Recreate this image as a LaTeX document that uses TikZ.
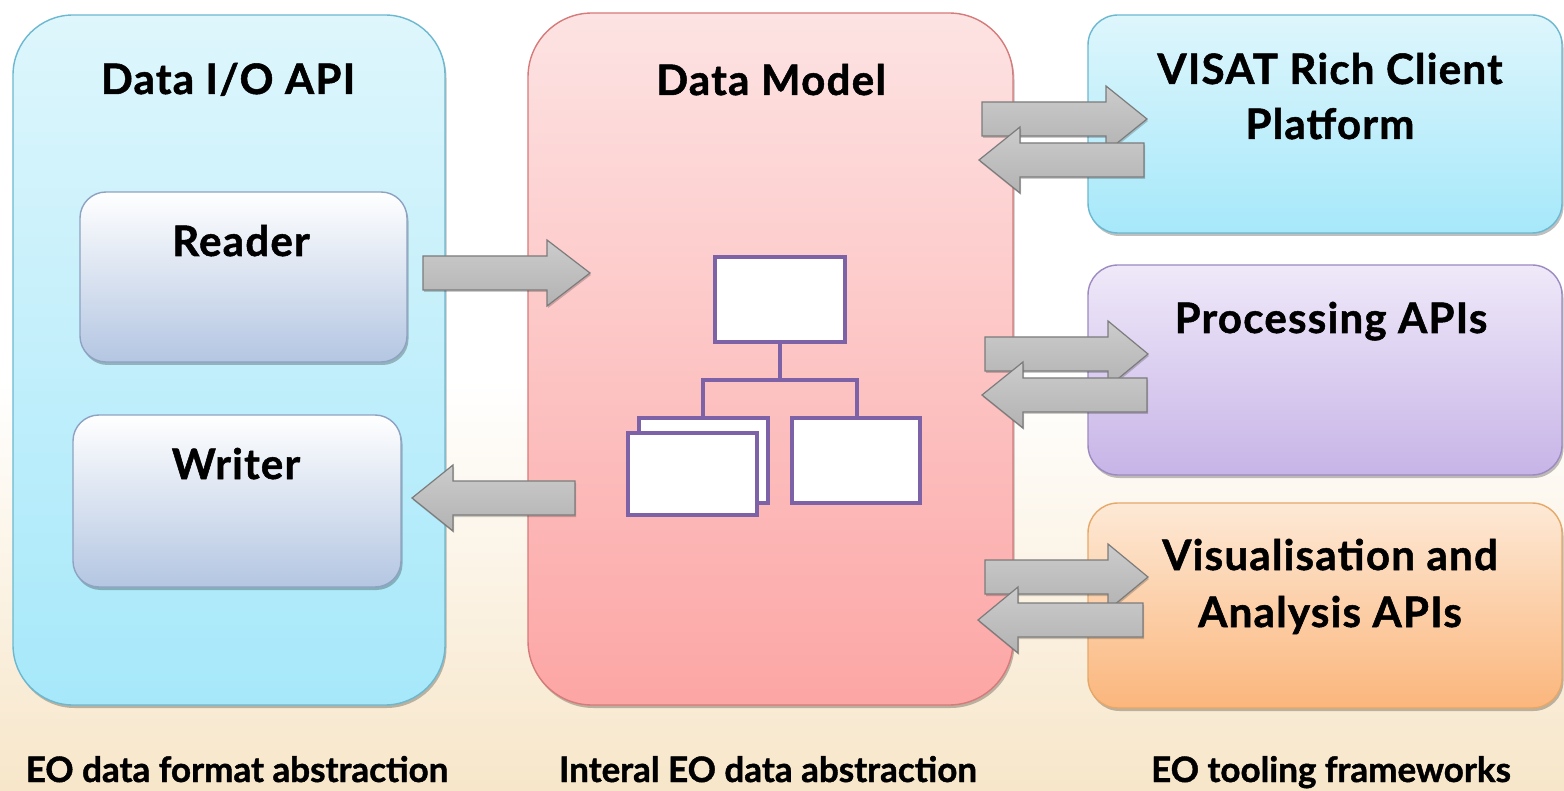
\documentclass[tikz,border=0pt]{standalone}
\usepackage{fontspec}
\setmainfont{Lato}
\newfontfamily\headfont{Lato}[BoldFeatures={FakeBold=1.2,LetterSpace=3}]
\newfontfamily\capfont{Lato}[BoldFeatures={FakeBold=1.2}]
\usetikzlibrary{shadows}
\definecolor{bgbeige}{HTML}{F7E6C9}
\definecolor{cyantop}{HTML}{DEF6FC}
\definecolor{cyanbot}{HTML}{A6E8FA}
\definecolor{cyanline}{HTML}{6CB8D0}
\definecolor{rwtop}{HTML}{FFFFFF}
\definecolor{rwbot}{HTML}{B4C6E2}
\definecolor{rwline}{HTML}{8EA2C2}
\definecolor{redtop}{HTML}{FDE3E3}
\definecolor{redbot}{HTML}{FCA6A5}
\definecolor{redline}{HTML}{D77A7A}
\definecolor{purtop}{HTML}{EFE9F9}
\definecolor{purbot}{HTML}{C7B4E7}
\definecolor{purline}{HTML}{9C8AC0}
\definecolor{ortop}{HTML}{FDE9D6}
\definecolor{orbot}{HTML}{FBB67C}
\definecolor{orline}{HTML}{E6A868}
\definecolor{treeline}{HTML}{7E62A8}
\definecolor{arrline}{HTML}{7C7C7C}
\begin{document}
\begin{tikzpicture}[x=1pt,y=-1pt,
  box/.style={draw, line width=1.4pt, inner sep=0pt, outer sep=0pt,
    drop shadow={shadow xshift=1.5pt, shadow yshift=-3pt, opacity=0.25, fill=black}},
  bigbox/.style={box, rounded corners=60pt},
  subbox/.style={box, rounded corners=26pt, draw=rwline, top color=rwtop, bottom color=rwbot},
  sidebox/.style={box, rounded corners=30pt},
  title/.style={anchor=base, font=\headfont\bfseries\fontsize{42}{50}\selectfont, align=center, inner sep=0pt},
  caption/.style={anchor=base, font=\capfont\bfseries\fontsize{35}{42}\selectfont, inner sep=0pt},
  treebox/.style={draw=treeline, line width=3.8pt, fill=white, inner sep=0pt},
  treeedge/.style={draw=treeline, line width=3.8pt},
  barrowstyle/.style={draw=arrline, line width=1.2pt, top color=black!20, middle color=black!6, bottom color=black!30,
    drop shadow={shadow xshift=1pt, shadow yshift=-2pt, opacity=0.2, fill=black}}
]
% background
\useasboundingbox (0,0) rectangle (1564,791);
\fill[white] (0,0) rectangle (1564,791);
\shade[top color=white, bottom color=bgbeige] (0,380) rectangle (1564,791);

% main boxes
\node[bigbox, draw=cyanline, top color=cyantop, bottom color=cyanbot,
  minimum width=432pt, minimum height=690pt] (io) at (229,360) {};
\node[subbox, minimum width=327pt, minimum height=170pt] (reader) at (243.5,277) {};
\node[subbox, minimum width=328pt, minimum height=172pt] (writer) at (237,501) {};
\node[bigbox, rounded corners=64pt, draw=redline, top color=redtop, bottom color=redbot,
  minimum width=485pt, minimum height=692pt] (model) at (770.5,359) {};
\node[sidebox, draw=cyanline, top color=cyantop, bottom color=cyanbot,
  minimum width=474pt, minimum height=218pt] (visat) at (1325,124) {};
\node[sidebox, draw=purline, top color=purtop, bottom color=purbot,
  minimum width=474pt, minimum height=210pt] (proc) at (1325,370) {};
\node[sidebox, draw=orline, top color=ortop, bottom color=orbot,
  minimum width=474pt, minimum height=205pt] (vis) at (1325,605.5) {};

% titles
\node[title] (tio) at (228,94) {Data I/O API};
\node[title] (treader) at (241,256) {Reader};
\node[title] (twriter) at (236,479) {Writer};
\node[title] (tmodel) at (771,95) {Data Model};
\node[title] (tvisat1) at (1330,84) {VISAT Rich Client};
\node[title] (tvisat2) at (1330,139) {Platform};
\node[title] (tproc) at (1331,333) {Processing APIs};
\node[title] (tvis1) at (1330,570) {Visualisation and};
\node[title] (tvis2) at (1330,627) {Analysis APIs};

% captions
\node[caption] (c1) at (237,782) {EO data format abstraction};
\node[caption] (c2) at (768,782) {Interal EO data abstraction};
\node[caption] (c3) at (1331,782) {EO tooling frameworks};

% tree diagram
\draw[treeedge] (780,342) -- (780,380);
\draw[treeedge] (703,417) -- (703,380) -- (857,380) -- (857,417);
\node[treebox, minimum width=130pt, minimum height=85pt] (troot) at (780,299.5) {};
\node[treebox, minimum width=129pt, minimum height=85pt] (tback) at (703.5,460.5) {};
\node[treebox, minimum width=129pt, minimum height=82pt] (tfront) at (692.5,474) {};
\node[treebox, minimum width=128pt, minimum height=85pt] (tright) at (856,460.5) {};

% block arrows: (tail x, head base x, tip x, centre y)
\newcommand\BlockArrow[4]{%
  \draw[barrowstyle] (#1,#4-17) -- (#2,#4-17) -- (#2,#4-33) -- (#3,#4) -- (#2,#4+33) -- (#2,#4+17) -- (#1,#4+17) -- cycle;}

\BlockArrow{423}{547}{590}{273}
\BlockArrow{575}{453}{412}{498}

\BlockArrow{982}{1106}{1147}{119}
\BlockArrow{1144}{1020}{979}{160}

\BlockArrow{985}{1108}{1148}{354}
\BlockArrow{1147}{1023}{982}{395}

\BlockArrow{985}{1108}{1148}{577}
\BlockArrow{1143}{1018}{978}{620}
\end{tikzpicture}
\end{document}
